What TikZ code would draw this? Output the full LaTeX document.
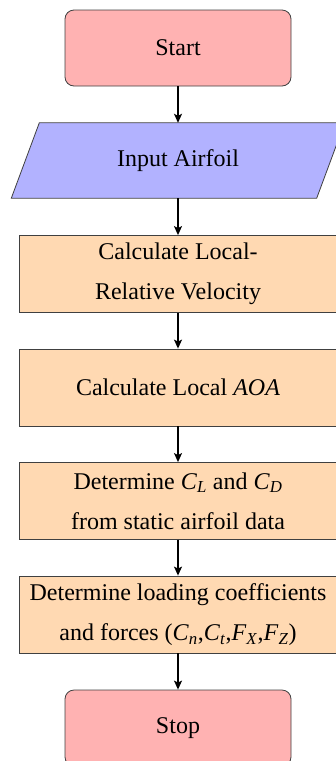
\documentclass[tikz,border=0pt]{standalone}
\usepackage{fontspec}
\setmainfont{Liberation Serif}
\usetikzlibrary{shapes.geometric,arrows.meta}
\begin{document}
\begin{tikzpicture}[x=1pt,y=-1pt, font=\fontsize{24}{40}\selectfont,
 termbox/.style={draw=black!75, line width=0.8pt, fill=red!30, rounded corners=9pt, minimum width=226pt, minimum height=76pt, inner sep=0pt},
 iobox/.style={minimum width=305pt, minimum height=75pt, inner sep=0pt},
 ioshape/.style={draw=black!75, line width=0.8pt, fill=blue!30},
 procbox/.style={draw=black!75, line width=0.8pt, fill=orange!30, minimum width=318pt, minimum height=77pt, inner sep=0pt, align=center},
 flow/.style={-{Stealth[length=9pt,width=8pt,inset=2pt]}, line width=1.4pt}]
\useasboundingbox (0,0) rectangle (335,761);
\node[termbox] (start) at (178,48) {Start};
\node[iobox] (input) at (178,160.5) {};
\draw[ioshape] ([xshift=-14pt]input.south west) -- ([xshift=-14pt]input.south east) -- ([xshift=14pt]input.north east) -- ([xshift=14pt]input.north west) -- cycle;
\node at (input) {Input Airfoil};
\node[procbox] (vel) at (178,274) {Calculate Local-\\Relative Velocity};
\node[procbox] (aoa) at (178,387.5) {Calculate Local \textit{AOA}};
\node[procbox] (cl) at (178,501) {Determine \textit{C}\textsubscript{\textit{L}} and \textit{C}\textsubscript{\textit{D}}\\from static airfoil data};
\node[procbox] (load) at (178,614.5) {Determine loading coefficients\\and forces (\textit{C}\textsubscript{\textit{n}},\textit{C}\textsubscript{\textit{t}},\textit{F}\textsubscript{\textit{X}},\textit{F}\textsubscript{\textit{Z}})};
\node[termbox] (stop) at (178,728) {Stop};
\draw[flow] (start) -- (input);
\draw[flow] (input) -- (vel);
\draw[flow] (vel) -- (aoa);
\draw[flow] (aoa) -- (cl);
\draw[flow] (cl) -- (load);
\draw[flow] (load) -- (stop);
\end{tikzpicture}
\end{document}
